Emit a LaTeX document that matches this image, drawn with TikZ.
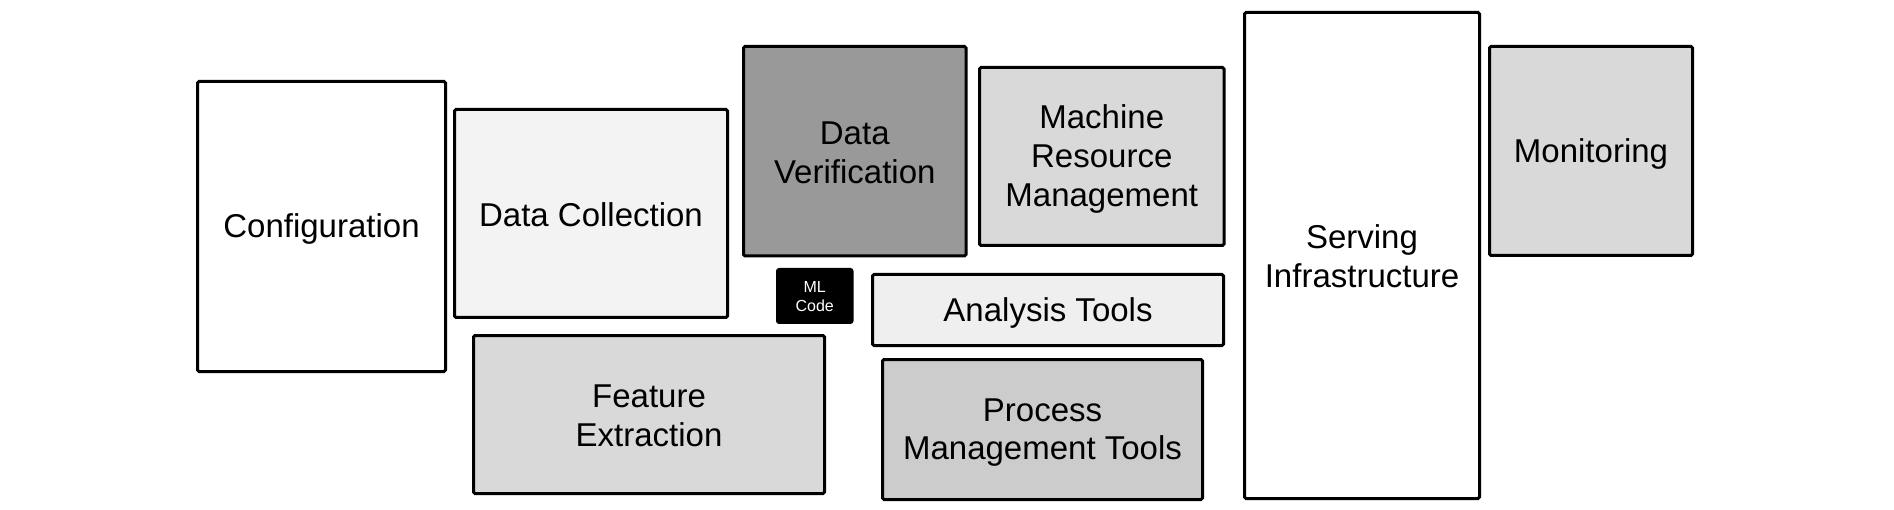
\documentclass[tikz,border=0pt]{standalone}
\usepackage{fontspec}
\setmainfont{Liberation Sans}
\definecolor{cDC}{HTML}{F3F3F3}
\definecolor{cDV}{HTML}{999999}
\definecolor{cMR}{HTML}{D9D9D9}
\definecolor{cAT}{HTML}{EFEFEF}
\definecolor{cFE}{HTML}{D9D9D9}
\definecolor{cPM}{HTML}{CCCCCC}
\definecolor{cMO}{HTML}{D9D9D9}
\newcommand\TS{\rule{0pt}{29pt}}
\newcommand\BS{\rule[-3.6pt]{0pt}{3.6pt}}
\newcommand\TSs{\rule{0pt}{14pt}}
\newcommand\BSs{\rule[-1.7pt]{0pt}{1.7pt}}
\begin{document}
\begin{tikzpicture}[x=1pt,y=-1pt,
  blk/.style={draw=black, line width=3pt, rounded corners=1.5pt, inner sep=0pt,
    align=center, font=\fontsize{33}{38.6}\selectfont},
  mlbox/.style={fill=black, text=white, rounded corners=3pt, inner sep=0pt,
    align=center, font=\fontsize{16}{19}\selectfont}]
\useasboundingbox (0,0) rectangle (1894,510);
\node[blk, fill=white, minimum width=248pt, minimum height=290pt] (config) at (321.5,226.5) {\TS Configuration\BS};
\node[blk, fill=cDC, minimum width=273pt, minimum height=208pt] (datacoll) at (591,213.5) {\TS Data Collection\BS};
\node[blk, fill=cDV, minimum width=222.5pt, minimum height=209.5pt] (dataver) at (854.75,151.25) {\TS Data\\Verification\BS};
\node[blk, fill=cMR, minimum width=244.5pt, minimum height=178pt] (machine) at (1101.75,156.5) {\TS Machine\\Resource\\Management\BS};
\node[mlbox, minimum width=77.5pt, minimum height=56pt] (mlcode) at (814.75,296) {\TSs ML\\Code\BSs};
\node[blk, fill=cAT, minimum width=351pt, minimum height=71pt] (analysis) at (1048,310) {\TS Analysis Tools\BS};
\node[blk, fill=cFE, minimum width=351pt, minimum height=158pt] (feature) at (649,414.5) {\TS Feature\\Extraction\BS};
\node[blk, fill=cPM, minimum width=320pt, minimum height=140pt] (process) at (1042.5,429.5) {\TS Process\\Management Tools\BS};
\node[blk, fill=white, minimum width=235pt, minimum height=486pt] (serving) at (1362,255.5) {\TS Serving\\Infrastructure\BS};
\node[blk, fill=cMO, minimum width=203pt, minimum height=209pt] (monitoring) at (1591,151) {\TS Monitoring\BS};
\end{tikzpicture}
\end{document}
